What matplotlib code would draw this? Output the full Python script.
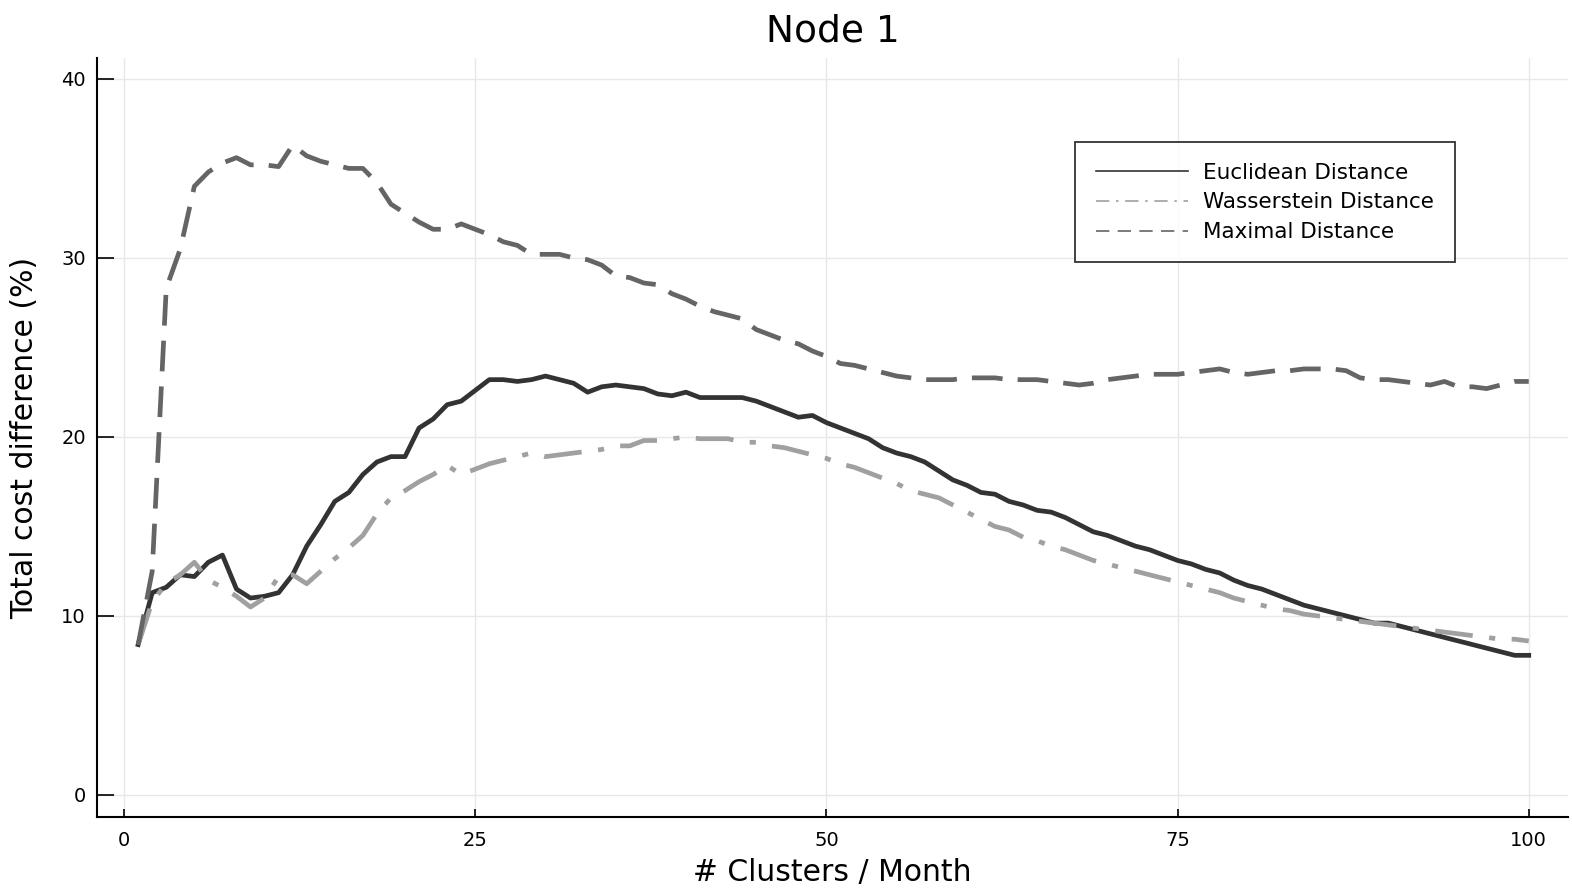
import numpy as np
import matplotlib
matplotlib.use("Agg")
import matplotlib.pyplot as plt

clusters = list(range(1, 101))

euclidean = [
    8.4, 11.3, 11.6, 12.3, 12.2, 13.0, 13.4, 11.5, 11.0, 11.1,
    11.3, 12.3, 13.9, 15.1, 16.4, 16.9, 17.9, 18.6, 18.9, 18.9,
    20.5, 21.0, 21.8, 22.0, 22.6, 23.2, 23.2, 23.1, 23.2, 23.4,
    23.2, 23.0, 22.5, 22.8, 22.9, 22.8, 22.7, 22.4, 22.3, 22.5,
    22.2, 22.2, 22.2, 22.2, 22.0, 21.7, 21.4, 21.1, 21.2, 20.8,
    20.5, 20.2, 19.9, 19.4, 19.1, 18.9, 18.6, 18.1, 17.6, 17.3,
    16.9, 16.8, 16.4, 16.2, 15.9, 15.8, 15.5, 15.1, 14.7, 14.5,
    14.2, 13.9, 13.7, 13.4, 13.1, 12.9, 12.6, 12.4, 12.0, 11.7,
    11.5, 11.2, 10.9, 10.6, 10.4, 10.2, 10.0, 9.8, 9.6, 9.6,
    9.4, 9.2, 9.0, 8.8, 8.6, 8.4, 8.2, 8.0, 7.8, 7.8,
]

wasserstein = [
    8.4, 10.8, 11.8, 12.3, 13.0, 12.0, 11.6, 11.1, 10.5, 11.0,
    12.2, 12.3, 11.8, 12.5, 13.2, 13.8, 14.5, 15.7, 16.6, 17.0,
    17.5, 17.9, 18.4, 17.9, 18.2, 18.5, 18.7, 18.9, 19.1, 18.9,
    19.0, 19.1, 19.2, 19.3, 19.5, 19.5, 19.8, 19.8, 19.9, 20.0,
    19.9, 19.9, 19.9, 19.7, 19.7, 19.5, 19.4, 19.2, 19.0, 18.8,
    18.5, 18.3, 18.0, 17.7, 17.4, 17.0, 16.8, 16.6, 16.2, 15.8,
    15.4, 15.0, 14.8, 14.4, 14.2, 13.9, 13.7, 13.4, 13.1, 12.9,
    12.7, 12.5, 12.3, 12.1, 11.9, 11.7, 11.5, 11.3, 11.0, 10.8,
    10.6, 10.4, 10.3, 10.1, 10.0, 9.9, 9.8, 9.7, 9.6, 9.5,
    9.4, 9.3, 9.2, 9.1, 9.0, 8.9, 8.8, 8.7, 8.7, 8.6,
]

maximal = [
    8.4, 12.5, 28.3, 30.5, 34.0, 34.8, 35.3, 35.6, 35.2, 35.2,
    35.1, 36.3, 35.7, 35.4, 35.2, 35.0, 35.0, 34.2, 33.0, 32.5,
    32.0, 31.6, 31.6, 31.9, 31.6, 31.3, 30.9, 30.7, 30.2, 30.2,
    30.2, 30.0, 29.9, 29.6, 29.0, 28.9, 28.6, 28.5, 28.0, 27.7,
    27.3, 27.0, 26.8, 26.6, 26.0, 25.7, 25.4, 25.2, 24.8, 24.5,
    24.1, 24.0, 23.8, 23.6, 23.4, 23.3, 23.2, 23.2, 23.2, 23.3,
    23.3, 23.3, 23.2, 23.2, 23.2, 23.1, 23.0, 22.9, 23.0, 23.2,
    23.3, 23.4, 23.5, 23.5, 23.5, 23.6, 23.7, 23.8, 23.6, 23.5,
    23.6, 23.7, 23.7, 23.8, 23.8, 23.8, 23.7, 23.3, 23.2, 23.2,
    23.1, 23.0, 22.9, 23.1, 22.8, 22.8, 22.7, 22.9, 23.1, 23.1,
]

x_ticks = [0, 25, 50, 75, 100]
y_ticks = [0, 10, 20, 30, 40]

plt.rcParams['font.family'] = ['DejaVu Sans']

fig = plt.figure(figsize=(15.72, 8.96), dpi=100)
ax = fig.add_axes([0.0617, 0.0882, 0.9358, 0.8471])

lw = 3.4
ax.plot(clusters, euclidean, color='#333333', lw=lw)
ax.plot(clusters, wasserstein, color='#a0a0a0', lw=lw, dashes=(8, 3.5, 1.3, 3.5))
ax.plot(clusters, maximal, color='#656565', lw=lw, dashes=(6.5, 3.2))

# legend drawn with thin lines, as in the original
h1, = ax.plot([], [], color='#333333', lw=1.2)
h2, = ax.plot([], [], color='#a0a0a0', lw=1.2, dashes=(8, 4, 1.5, 4))
h3, = ax.plot([], [], color='#656565', lw=1.2, dashes=(8, 5))
leg = ax.legend([h1, h2, h3], ['Euclidean Distance', 'Wasserstein Distance', 'Maximal Distance'],
                loc='upper left', bbox_to_anchor=(0.665, 0.889), fontsize=15.5,
                frameon=True, fancybox=False, edgecolor='black', handlelength=4.3,
                handletextpad=0.7, borderpad=0.95, labelspacing=0.45, borderaxespad=0)
leg.get_frame().set_linewidth(1.3)

ax.set_xlim(-1.93, 102.8)
ax.set_ylim(-1.23, 41.17)
ax.set_xticks(x_ticks)
ax.set_yticks(y_ticks)
ax.grid(True, color='#e8e8e8', lw=1.0)
ax.set_axisbelow(True)

for side in ['top', 'right']:
    ax.spines[side].set_visible(False)
for side in ['left', 'bottom']:
    ax.spines[side].set_linewidth(1.5)
ax.tick_params(axis='x', direction='in', length=6, width=1.2, labelsize=14, pad=10)
ax.tick_params(axis='y', direction='in', length=12, width=1.2, labelsize=14, pad=8)

ax.set_title('Node 1', fontsize=27, pad=12)
ax.set_xlabel('# Clusters / Month', fontsize=21.5, labelpad=6)
ax.set_ylabel('Total cost difference (%)', fontsize=21.5, labelpad=16)

fig.savefig('out.png', dpi=100)
